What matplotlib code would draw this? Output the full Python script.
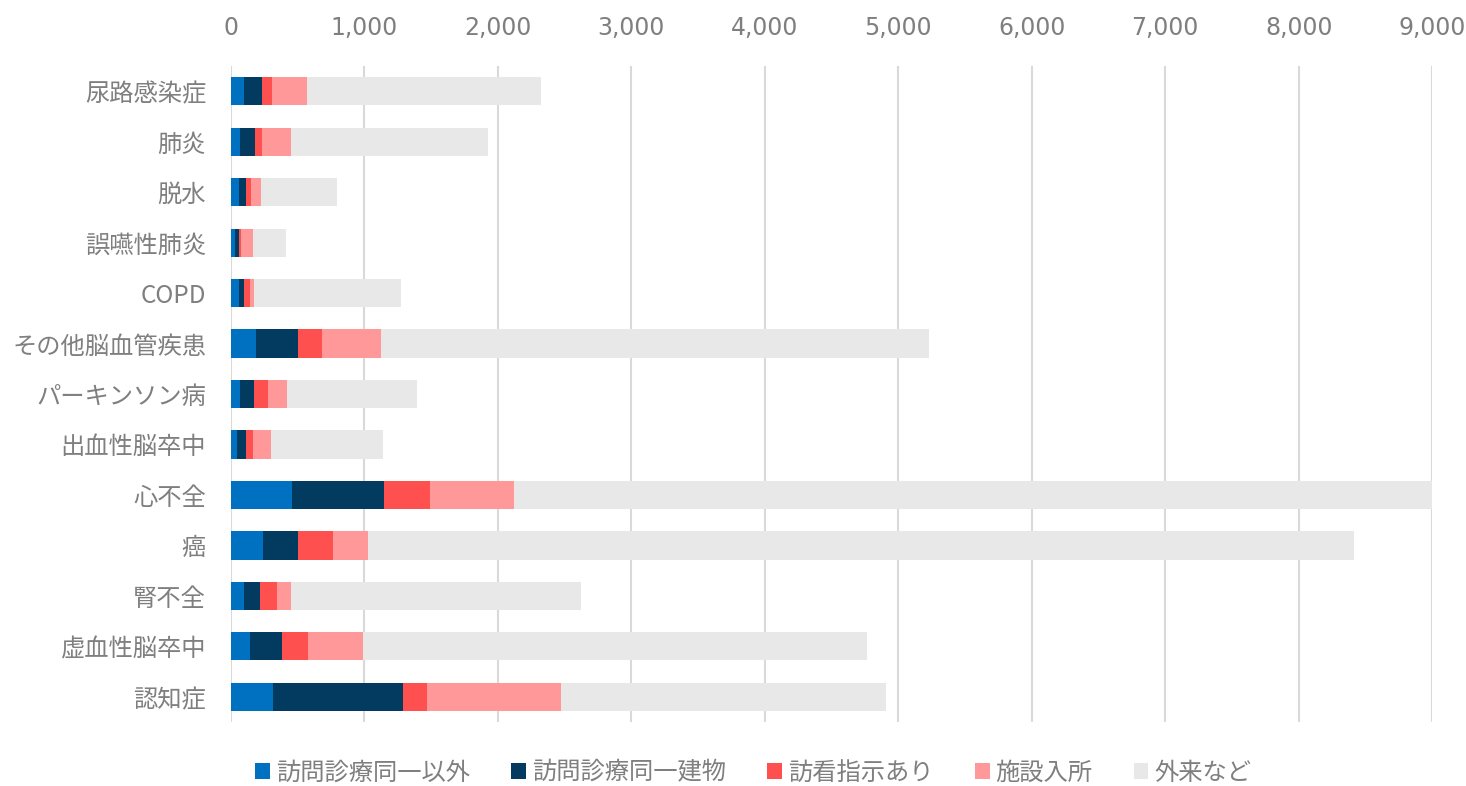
import matplotlib.pyplot as plt
import numpy as np

plt.rcParams['font.family'] = ['Noto Sans CJK JP', 'DejaVu Sans']

# 疾患（上から順）
categories = ['尿路感染症', '肺炎', '脱水', '誤嚥性肺炎', 'COPD', 'その他脳血管疾患',
              'パーキンソン病', '出血性脳卒中', '心不全', '癌', '腎不全', '虚血性脳卒中', '認知症']

series_names = ['訪問診療同一以外', '訪問診療同一建物', '訪看指示あり', '施設入所', '外来など']

homecare_other = [95, 68, 63, 32, 63, 188, 68, 45, 459, 241, 100, 143, 316]
homecare_same = [135, 110, 52, 30, 32, 311, 105, 68, 684, 258, 120, 237, 972]
nursing = [78, 57, 33, 15, 50, 180, 107, 55, 348, 265, 121, 194, 180]
facility = [261, 218, 80, 91, 28, 443, 143, 130, 631, 261, 112, 413, 1001]
outpatient = [1754, 1472, 564, 246, 1100, 4109, 970, 842, 6878, 7391, 2168, 3782, 2436]

colors = ['#0070C0', '#023A60', '#FF5050', '#FF9999', '#E8E8E8']

fig = plt.figure(figsize=(14.66, 7.86), dpi=100)
ax = fig.add_axes([0.1576, 0.0814, 0.8193, 0.8346])

y = np.arange(len(categories))
left = np.zeros(len(categories))
for name, vals, c in zip(series_names,
                         [homecare_other, homecare_same, nursing, facility, outpatient],
                         colors):
    ax.barh(y, vals, left=left, height=0.56, color=c, label=name, zorder=2)
    left += np.array(vals)

ax.set_ylim(len(categories) - 0.5, -0.5)
ax.set_xlim(0, 9000)
ax.set_xticks(range(0, 9001, 1000))
ax.set_xticklabels([f'{v:,}' for v in range(0, 9001, 1000)])
ax.xaxis.tick_top()
ax.set_yticks(y)
ax.set_yticklabels(categories)

ax.tick_params(axis='x', length=0, pad=19, labelsize=17, labelcolor='#7F7F7F')
ax.tick_params(axis='y', length=0, pad=18, labelsize=17.5, labelcolor='#7F7F7F')
for lab in ax.get_xticklabels():
    lab.set_family(['DejaVu Sans'])

ax.grid(axis='x', color='#D9D9D9', linewidth=1.5, zorder=0)
for s in ax.spines.values():
    s.set_visible(False)

fig.legend(loc='center', bbox_to_anchor=(0.514, 0.017), ncol=5, frameon=False,
           fontsize=17.5, labelcolor='#7F7F7F', handlelength=0.6, handleheight=0.6,
           handletextpad=0.25, columnspacing=1.7)

plt.savefig('out.png', dpi=100)
